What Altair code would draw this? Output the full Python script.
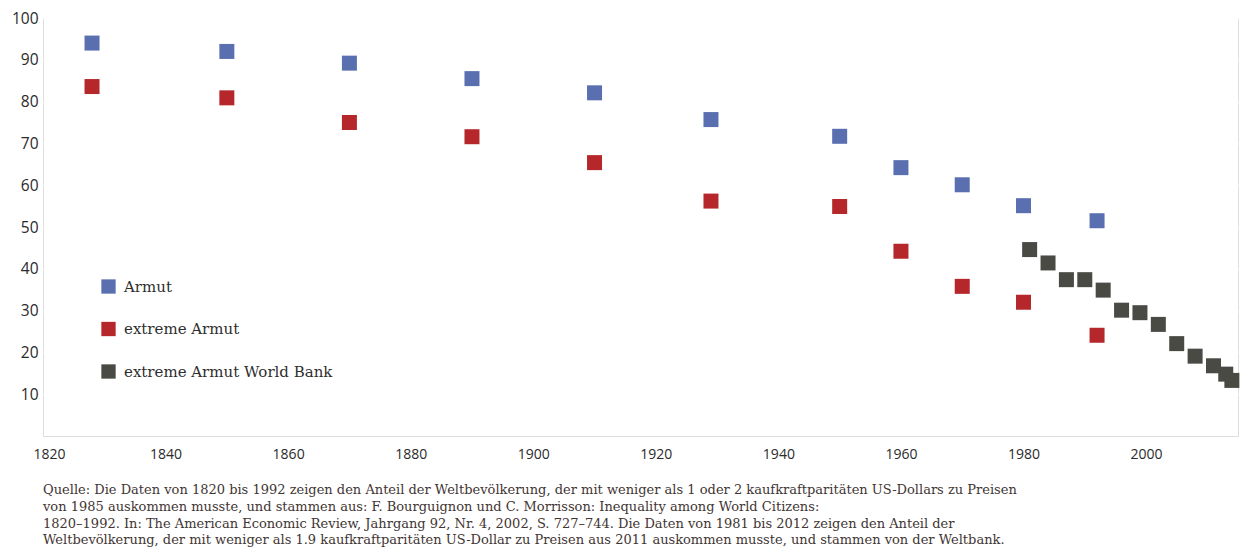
import altair as alt
import pandas as pd

# --- data ---
years_bm = [1828, 1850, 1870, 1890, 1910, 1929, 1950, 1960, 1970, 1980, 1992]
armut = [94.0, 92.0, 89.2, 85.5, 82.1, 75.7, 71.7, 64.2, 60.1, 55.1, 51.5]
extreme_armut = [83.6, 80.9, 75.0, 71.6, 65.4, 56.2, 54.9, 44.2, 35.8, 32.0, 24.1]
years_wb = [1981, 1984, 1987, 1990, 1993, 1996, 1999, 2002, 2005, 2008, 2011, 2013, 2014]
extreme_wb = [44.6, 41.4, 37.4, 37.4, 34.9, 30.1, 29.5, 26.7, 22.1, 19.1, 16.8, 14.8, 13.3]

series_names = ["Armut", "extreme Armut", "extreme Armut World Bank"]
series_colors = ["#5a6fb0", "#b6272b", "#4a4a45"]

x_ticks = [1820, 1840, 1860, 1880, 1900, 1920, 1940, 1960, 1980, 2000]
y_ticks = [10, 20, 30, 40, 50, 60, 70, 80, 90, 100]

caption = [
    "Quelle: Die Daten von 1820 bis 1992 zeigen den Anteil der Weltbevölkerung, der mit weniger als 1 oder 2 kaufkraftparitäten US-Dollars zu Preisen",
    "von 1985 auskommen musste, und stammen aus:  F. Bourguignon und C. Morrisson: Inequality among World Citizens:",
    "1820–1992. In: The American Economic Review, Jahrgang 92, Nr. 4, 2002, S. 727–744. Die Daten von 1981 bis 2012 zeigen den Anteil der",
    "Weltbevölkerung, der mit weniger als 1.9 kaufkraftparitäten US-Dollar zu Preisen aus 2011 auskommen musste, und stammen von der Weltbank.",
]

rows = []
for y, v in zip(years_bm, armut):
    rows.append({"Jahr": y, "Wert": v, "Reihe": series_names[0]})
for y, v in zip(years_bm, extreme_armut):
    rows.append({"Jahr": y, "Wert": v, "Reihe": series_names[1]})
for y, v in zip(years_wb, extreme_wb):
    rows.append({"Jahr": y, "Wert": v, "Reihe": series_names[2]})
df = pd.DataFrame(rows)

AXIS_FONT = "Open Sans"
SERIF = "DejaVu Serif"

chart = (
    alt.Chart(df)
    .mark_point(shape="square", filled=True, size=225, opacity=1, strokeWidth=0)
    .encode(
        x=alt.X(
            "Jahr:Q",
            scale=alt.Scale(domain=[1820, 2015], nice=False, zero=False),
            axis=alt.Axis(
                values=x_ticks,
                format="d",
                title=None,
                grid=False,
                ticks=False,
                domain=False,
                labelFont=AXIS_FONT,
                labelFontSize=14,
                labelColor="#2a2a2a",
                labelPadding=11,
                labelFlush=True,
                labelFlushOffset=10,
            ),
        ),
        y=alt.Y(
            "Wert:Q",
            scale=alt.Scale(domain=[0, 100], nice=False),
            axis=alt.Axis(
                values=y_ticks,
                title=None,
                ticks=False,
                domain=False,
                grid=True,
                gridColor="#ffffff",
                gridWidth=2.5,
                gridOpacity=1,
                labelFont=AXIS_FONT,
                labelFontSize=15.5,
                labelColor="#2a2a2a",
                labelPadding=5,
            ),
        ),
        color=alt.Color(
            "Reihe:N",
            sort=series_names,
            scale=alt.Scale(domain=series_names, range=series_colors),
            legend=alt.Legend(
                orient="none",
                legendX=58,
                legendY=261,
                title=None,
                symbolType="square",
                symbolSize=205,
                symbolStrokeWidth=0,
                symbolOpacity=1,
                labelFont=SERIF,
                labelFontSize=15,
                labelColor="#2e2e2e",
                labelOffset=8,
                labelLimit=0,
                rowPadding=26.5,
                padding=0,
            ),
        ),
    )
    .properties(
        width=1195,
        height=418,
        autosize=alt.AutoSizeParams(type="none"),
        padding={"left": 35, "top": 10, "right": 2, "bottom": 114},
        title=alt.TitleParams(
            text=caption,
            orient="bottom",
            anchor="start",
            frame="group",
            font=SERIF,
            fontSize=13,
            fontWeight="normal",
            color="#3f3533",
            lineHeight=16.8,
            offset=23,
        ),
    )
    .configure_view(fill="#f2eee4", stroke=None)
    .configure(background="#ffffff")
)

chart.save("out.html", embed_options={"renderer": "svg", "actions": False})
